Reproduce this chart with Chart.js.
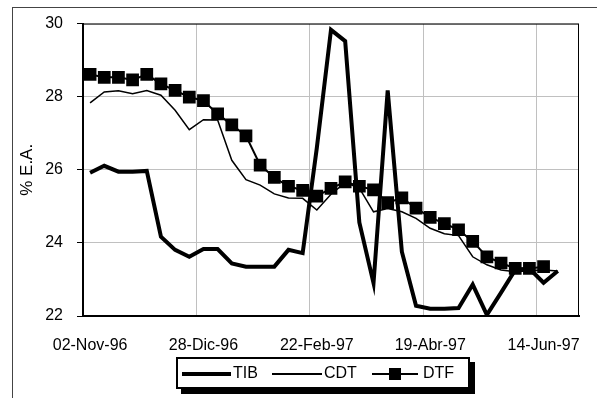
<!DOCTYPE html>
<html>
<head>
<meta charset="utf-8">
<script src="https://cdn.jsdelivr.net/npm/chart.js@4.4.1/dist/chart.umd.min.js"></script>
<style>
  body { margin: 0; background: #fff; font-family: Arial, "Liberation Sans", sans-serif; }
  #wrap { position: relative; width: 597px; height: 398px; overflow: hidden; }
  #frame { position: absolute; left: 12px; top: 7px; width: 700px; height: 500px; border-left: 1px solid #444; border-top: 1px solid #444; }
  #chart { position: absolute; left: 0; top: 0; }
  #legend { position: absolute; left: 176px; top: 357px; width: 290px; height: 28px; border: 2px solid #000; background: #fff; box-shadow: 5px 5px 0 #000; font-size: 16px; color: #000; }
  #legend .item { position: absolute; top: 0; height: 28px; line-height: 28px; }
  #legend .ln { position: absolute; background: #000; }
  #legend .sq { position: absolute; width: 12px; height: 12px; background: #000; }
</style>
</head>
<body>
<div id="wrap">
  <div id="frame"></div>
  <canvas id="chart" width="597" height="398"></canvas>
  <div id="legend"></div>
</div>
<script>
// weekly categories
let weeks = ['02-Nov-96', '09-Nov-96', '16-Nov-96', '23-Nov-96', '30-Nov-96', '07-Dic-96', '14-Dic-96', '21-Dic-96',
    '28-Dic-96', '04-Ene-97', '11-Ene-97', '18-Ene-97', '25-Ene-97', '01-Feb-97', '08-Feb-97', '15-Feb-97',
    '22-Feb-97', '01-Mar-97', '08-Mar-97', '15-Mar-97', '22-Mar-97', '29-Mar-97', '05-Abr-97', '12-Abr-97',
    '19-Abr-97', '26-Abr-97', '03-May-97', '10-May-97', '17-May-97', '24-May-97', '31-May-97', '07-Jun-97',
    '14-Jun-97', '21-Jun-97', '28-Jun-97'];

// rates, % E.A.
let tib = [25.92, 26.11, 25.95, 25.95, 25.97, 24.17, 23.81, 23.62, 23.83, 23.83, 23.44, 23.35, 23.35, 23.35, 23.81, 23.72,
    26.6, 29.83, 29.52, 24.56, 22.90, 28.17, 23.76, 22.28, 22.2, 22.2, 22.22, 22.86, 22.03, 22.64, 23.26, 23.3, 22.91, 23.23];
let cdt = [27.83, 28.13, 28.16, 28.08, 28.17, 28.04, 27.63, 27.1, 27.37, 27.36, 26.26, 25.73, 25.58, 25.34, 25.23, 25.22,
    24.9, 25.33, 25.65, 25.5, 24.85, 24.94, 24.85, 24.67, 24.4, 24.25, 24.2, 23.62, 23.4, 23.26, 23.21, 23.24, 23.26, 23.23];
let dtf = [28.61, 28.53, 28.53, 28.46, 28.61, 28.35, 28.17, 27.99, 27.89, 27.53, 27.23, 26.93, 26.13, 25.79, 25.55, 25.44,
    25.28, 25.49, 25.67, 25.55, 25.45, 25.1, 25.23, 24.95, 24.7, 24.53, 24.36, 24.04, 23.62, 23.45, 23.3, 23.3, 23.35];

let yTicks = [22, 24, 26, 28, 30];
let labelEvery = 8;

const font = { family: 'Arial, "Liberation Sans", sans-serif', size: 16 };

// box round the plot area
const plotBorder = {
    id: 'plotBorder',
    beforeDatasetsDraw(chart) {
        const a = chart.chartArea;
        const ctx = chart.ctx;
        ctx.save();
        ctx.strokeStyle = '#000';
        ctx.lineWidth = 1;
        ctx.strokeRect(a.left, a.top + 0.5, a.right - a.left - 0.5, a.bottom - a.top);
        ctx.restore();
    }
};

new Chart(document.getElementById('chart'), {
    type: 'line',
    data: {
        labels: weeks,
        datasets: [
            { label: 'TIB', data: tib, borderColor: '#000', borderWidth: 4, pointRadius: 0, tension: 0, order: 3, borderJoinStyle: 'miter' },
            { label: 'CDT', data: cdt, borderColor: '#000', borderWidth: 1.5, pointRadius: 0, tension: 0, order: 2 },
            { label: 'DTF', data: dtf, borderColor: '#000', borderWidth: 2, pointStyle: 'rect', pointRadius: 9,
              pointBackgroundColor: '#000', pointBorderWidth: 0, tension: 0, order: 1 }
        ]
    },
    options: {
        responsive: false,
        animation: false,
        devicePixelRatio: 1,
        layout: { padding: { left: 12, top: 23, right: 18, bottom: 0 } },
        plugins: { legend: { display: false }, tooltip: { enabled: false } },
        scales: {
            x: {
                offset: true,
                grid: {
                    offset: true,
                    drawTicks: false,
                    color: (c) => (c.index % labelEvery === 0 ? '#c0c0c0' : 'rgba(0,0,0,0)')
                },
                border: { color: '#000', width: 2 },
                ticks: {
                    autoSkip: false,
                    maxRotation: 0,
                    minRotation: 0,
                    padding: 20,
                    color: '#000',
                    font: font,
                    callback: function (v, i) { return i % labelEvery === 0 ? weeks[i] : ''; }
                },
                afterFit(scale) { scale.height = 82; }
            },
            y: {
                min: yTicks[0],
                max: yTicks[yTicks.length - 1],
                grid: { color: '#c0c0c0', tickColor: '#000', tickLength: 6 },
                border: { color: '#000', width: 2 },
                ticks: { stepSize: 2, padding: 14, color: '#000', font: font },
                title: { display: true, text: '% E.A.', color: '#000', font: { family: font.family, size: 17 }, padding: { top: 5, bottom: 0 } },
                afterFit(scale) { scale.width = 71; }
            }
        }
    },
    plugins: [plotBorder]
});

// legend in the Excel style
const legend = document.getElementById('legend');
legend.innerHTML =
    '<div class="ln" style="left:4px;top:13px;width:49px;height:4px"></div>' +
    '<div class="item" style="left:55px">TIB</div>' +
    '<div class="ln" style="left:94px;top:14px;width:50px;height:1.5px"></div>' +
    '<div class="item" style="left:146px">CDT</div>' +
    '<div class="ln" style="left:194px;top:14px;width:46px;height:2px"></div>' +
    '<div class="sq" style="left:211px;top:9px"></div>' +
    '<div class="item" style="left:245px">DTF</div>';
</script>
</body>
</html>
